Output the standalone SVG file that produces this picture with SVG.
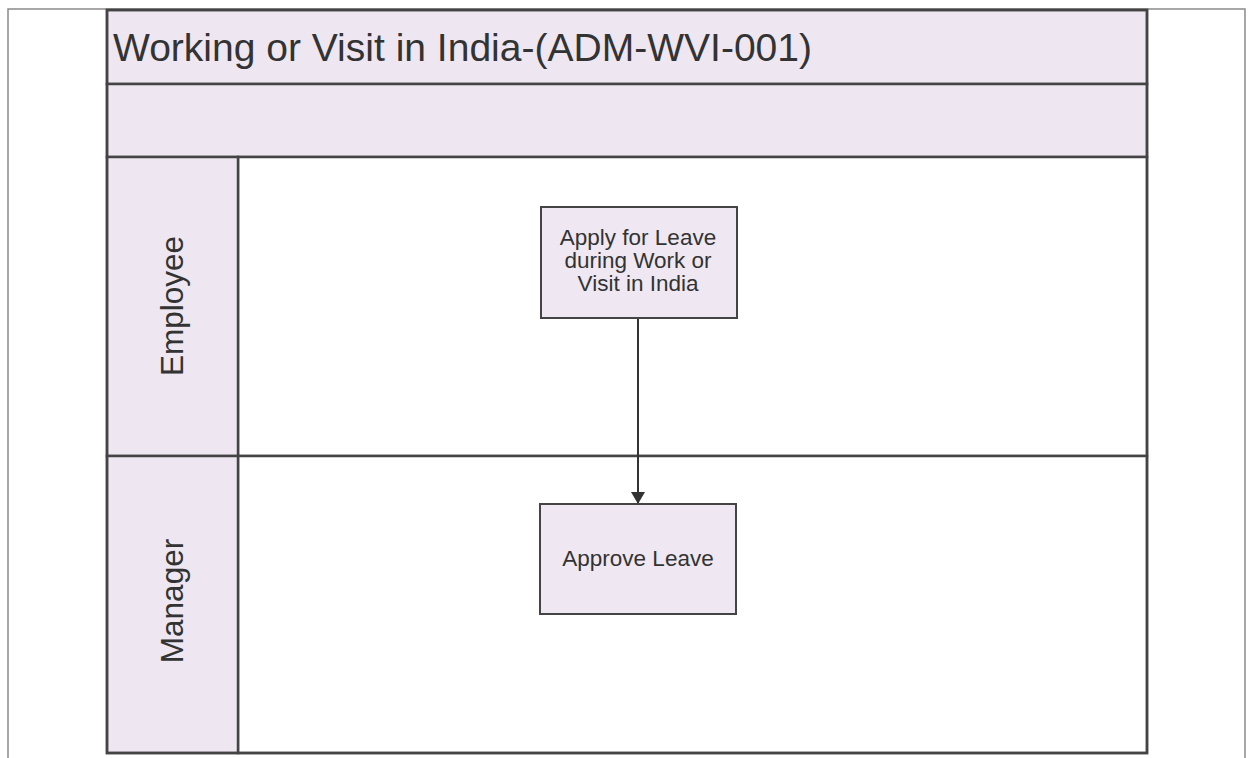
<svg xmlns="http://www.w3.org/2000/svg" width="1249" height="758" viewBox="0 0 1249 758">
<style>
.frame{fill:none;stroke:#444;stroke-width:2.5}
.band{fill:#eee7f1;stroke:#444;stroke-width:2.5}
.lanebody{fill:#fff;stroke:#444;stroke-width:2.5}
.box{fill:#efe8f2;stroke:#444;stroke-width:2}
.t{font-family:"Liberation Sans",Arial,sans-serif;fill:#333}
.conn{stroke:#333;stroke-width:2;fill:none}
</style>
<defs>
<marker id="arr" viewBox="0 0 12 14" refX="12" refY="7" markerWidth="12" markerHeight="14" markerUnits="userSpaceOnUse" orient="auto">
<path d="M0,0 L12,7 L0,14 Z" fill="#333"/>
</marker>
</defs>
<rect width="1249" height="758" fill="#fff"/>
<rect x="8" y="9" width="1237" height="760" fill="none" stroke="#8a8a8a" stroke-width="1.5"/>
<g id="pool">
<rect class="band" x="107" y="10" width="1040" height="74"/>
<text class="t" x="113" y="61" font-size="39" textLength="699" lengthAdjust="spacingAndGlyphs">Working or Visit in India-(ADM-WVI-001)</text>
<rect class="band" x="107" y="84" width="1040" height="73"/>
</g>
<g id="lane-employee">
<rect class="lanebody" x="238" y="157" width="909" height="299"/>
<rect class="band" x="107" y="157" width="131" height="299"/>
<text class="t" font-size="31.5" text-anchor="middle" transform="translate(183,306) rotate(-90)">Employee</text>
</g>
<g id="lane-manager">
<rect class="lanebody" x="238" y="456" width="909" height="297"/>
<rect class="band" x="107" y="456" width="131" height="297"/>
<text class="t" font-size="31.5" text-anchor="middle" transform="translate(183,601) rotate(-90)">Manager</text>
</g>
<rect class="frame" x="107" y="10" width="1040" height="743"/>
<g id="connectors">
<line class="conn" x1="638" y1="319" x2="638" y2="504" marker-end="url(#arr)"/>
</g>
<g id="node-apply">
<rect class="box" x="541" y="207" width="196" height="111"/>
<text class="t" font-size="22.5" text-anchor="middle"><tspan x="638" y="245">Apply for Leave</tspan><tspan x="638" y="268">during Work or</tspan><tspan x="638" y="291">Visit in India</tspan></text>
</g>
<g id="node-approve">
<rect class="box" x="540" y="504" width="196" height="110"/>
<text class="t" font-size="22.5" text-anchor="middle" x="638" y="566">Approve Leave</text>
</g>
</svg>
